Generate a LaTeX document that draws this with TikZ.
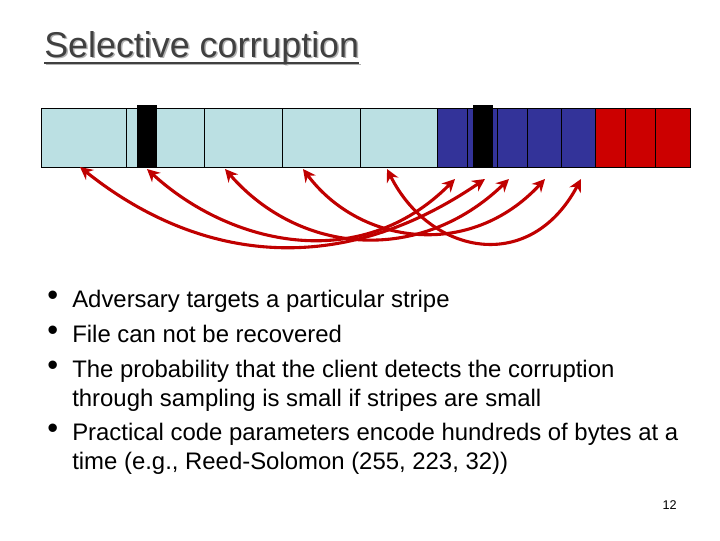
\documentclass[tikz,border=0pt]{standalone}
\usepackage{fontspec}
\setmainfont{Liberation Sans}
\usetikzlibrary{arrows.meta}
\definecolor{lb}{HTML}{BBE0E3}
\definecolor{db}{HTML}{333399}
\definecolor{rd}{HTML}{CC0000}
\definecolor{arr}{HTML}{C00000}
\begin{document}
\begin{tikzpicture}[x=0.025cm,y=-0.025cm,
  cell/.style={draw=black,line width=0.5pt},
  link/.style={draw=arr,line width=2.2pt,{Stealth[length=9pt,width=9pt]}-{Stealth[length=9pt,width=9pt]}},
  body/.style={anchor=base west,font=\fontsize{17}{20}\selectfont,inner sep=0},
  bul/.style={anchor=base west,font=\fontsize{22}{20}\selectfont,inner sep=0}]
\useasboundingbox (0,0) rectangle (720,540);
\node[anchor=base west,inner sep=0,font=\fontsize{25.5}{30}\selectfont,text=gray!60] (ts) at (45.5,58.5) {Selective corruption};
\draw[gray!60,line width=1pt] (45.5,64.5) -- (ts.base east |- 0,64.5);
\node[anchor=base west,inner sep=0,font=\fontsize{25.5}{30}\selectfont,text=black!75] (t) at (44,57) {Selective corruption};
\draw[black!75,line width=1pt] (44,63) -- (t.base east |- 0,63);
\foreach \a/\b in {41/126,126/204,204/282,282/360,360/437}{\fill[lb] (\a,108) rectangle (\b,167); \draw[cell] (\a,108) rectangle (\b,167);}
\foreach \a/\b in {437/467,467/497,497/527,527/561,561/595}{\fill[db] (\a,108) rectangle (\b,167); \draw[cell] (\a,108) rectangle (\b,167);}
\foreach \a/\b in {595/625,625/655,655/690}{\fill[rd] (\a,108) rectangle (\b,167); \draw[cell] (\a,108) rectangle (\b,167);}
\fill[black] (137,105) rectangle (157,168);
\fill[black] (473,105) rectangle (493,168);
\coordinate (l1) at (80,167); \coordinate (l2) at (147,169);
\coordinate (l3) at (225,169); \coordinate (l4) at (303,169); \coordinate (l5) at (387,169);
\coordinate (r1) at (455,179); \coordinate (r2) at (485,179); \coordinate (r3) at (509,179);
\coordinate (r4) at (545,179); \coordinate (r5) at (581,179);
\draw[link] (l1) .. controls (190,255) and (330,285) .. (r2);
\draw[link] (l2) .. controls (230,245) and (360,275) .. (r1);
\draw[link] (l3) .. controls (300,255) and (420,265) .. (r3);
\draw[link] (l4) .. controls (360,245) and (470,260) .. (r4);
\draw[link] (l5) .. controls (430,255) and (530,275) .. (r5);
\foreach \y in {307,342,377,440}{\node[bul] at (47,\y-2) {•};}
\node[body] (b1) at (72,307) {Adversary targets a particular stripe};
\node[body] (b2) at (72,342) {File can not be recovered};
\node[body] (b3) at (72,377) {The probability that the client detects the corruption};
\node[body] (b3b) at (72,406) {through sampling is small if stripes are small};
\node[body] (b4) at (72,440) {Practical code parameters encode hundreds of bytes at a};
\node[body] (b4b) at (72,469) {time (e.g., Reed-Solomon (255, 223, 32))};
\node[anchor=base east,inner sep=0,font=\fontsize{9}{10}\selectfont] (pg) at (677,509) {12};
\end{tikzpicture}
\end{document}
